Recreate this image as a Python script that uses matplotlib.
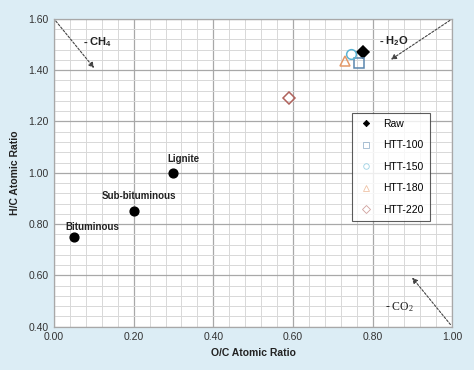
import numpy as np
from matplotlib import pyplot as plt
from matplotlib.ticker import MultipleLocator, FormatStrFormatter

plt.rcParams['font.family'] = ['Liberation Sans', 'DejaVu Sans']
plt.rcParams['mathtext.default'] = 'regular'

# coal reference points
coal_names = ['Lignite', 'Sub-bituminous', 'Bituminous']
coal_oc = [0.30, 0.20, 0.05]
coal_hc = [1.00, 0.85, 0.75]

# biomass samples
samples = ['Raw', 'HTT-100', 'HTT-150', 'HTT-180', 'HTT-220']
sample_oc = [0.775, 0.767, 0.745, 0.730, 0.590]
sample_hc = [1.470, 1.428, 1.462, 1.437, 1.290]
markers = ['D', 's', 'o', '^', 'D']
colors = ['black', '#5a86ad', '#5bb3d3', '#e49a6a', '#b0625c']
filled = [True, False, False, False, False]

fig = plt.figure(figsize=(4.74, 3.70), dpi=100)
fig.patch.set_facecolor('#dcedf5')
ax = fig.add_axes([0.114, 0.117, 0.840, 0.832])
ax.set_facecolor('white')

ax.set_xlim(0, 1)
ax.set_ylim(0.4, 1.6)
ax.xaxis.set_major_locator(MultipleLocator(0.2))
ax.yaxis.set_major_locator(MultipleLocator(0.2))
ax.xaxis.set_minor_locator(MultipleLocator(0.04))
ax.yaxis.set_minor_locator(MultipleLocator(0.04))
ax.xaxis.set_major_formatter(FormatStrFormatter('%.2f'))
ax.yaxis.set_major_formatter(FormatStrFormatter('%.2f'))
ax.grid(which='major', color='#a8a8a8', lw=0.9)
ax.grid(which='minor', color='#d8d8d8', lw=0.7)
ax.set_axisbelow(True)
for s in ax.spines.values():
    s.set_color('#a8a8a8')
    s.set_linewidth(0.9)
ax.tick_params(which='both', length=0, labelsize=7.5, colors='#333333', pad=4)

ax.set_xlabel('O/C Atomic Ratio', fontsize=7.5, fontweight='bold', color='#222222')
ax.set_ylabel('H/C Atomic Ratio', fontsize=7.5, fontweight='bold', color='#222222',
              labelpad=6)

ax.scatter(coal_oc, coal_hc, s=40, color='black', zorder=3)
offsets = [(7, 10), (4, 11), (13, 7)]
for name, x, y, off in zip(coal_names, coal_oc, coal_hc, offsets):
    ax.annotate(name, (x, y), xytext=off, textcoords='offset points',
                ha='center', va='center',
                fontsize=7, fontweight='bold', color='#222222')

for lab, x, y, m, c, f in zip(samples, sample_oc, sample_hc, markers, colors, filled):
    ax.plot(x, y, linestyle='none', marker=m, ms=7 if m != 'D' else 6,
            mfc=c if f else 'none', mec=c, mew=1.1, zorder=4)
    # small pale legend entries
    ax.plot([], [], linestyle='none', marker=m, ms=3.2 if f else 4,
            mfc=c if f else 'none', mec=c, mew=0.6, alpha=1 if f else 0.6, label=lab)

leg = ax.legend(loc='upper left', bbox_to_anchor=(0.748, 0.695), frameon=True,
                fancybox=False, edgecolor='#333333', fontsize=7.5,
                labelspacing=1.1, handletextpad=0.8, borderpad=0.6,
                handlelength=1.6, borderaxespad=0)
leg.get_frame().set_linewidth(0.8)

arrow = dict(arrowstyle='-|>', linestyle=(0, (2, 1.5)), color='#444444', lw=0.8,
             mutation_scale=8)
ax.annotate('', xy=(0.105, 1.40), xytext=(0.0, 1.60), arrowprops=arrow)
ax.annotate('', xy=(0.840, 1.435), xytext=(1.0, 1.60), arrowprops=arrow)
ax.annotate('', xy=(0.895, 0.60), xytext=(1.0, 0.40), arrowprops=arrow)

ax.text(0.072, 1.51, '- CH$_4$', fontsize=8, fontweight='bold', color='#222222',
        va='center')
ax.text(0.815, 1.515, '- H$_2$O', fontsize=8, fontweight='bold', color='#222222',
        va='center')
ax.text(0.832, 0.475, '- CO$_2$', fontsize=8.5, family='Liberation Serif',
        color='#222222', va='center')

fig.savefig('out.png', dpi=100, facecolor=fig.get_facecolor())
